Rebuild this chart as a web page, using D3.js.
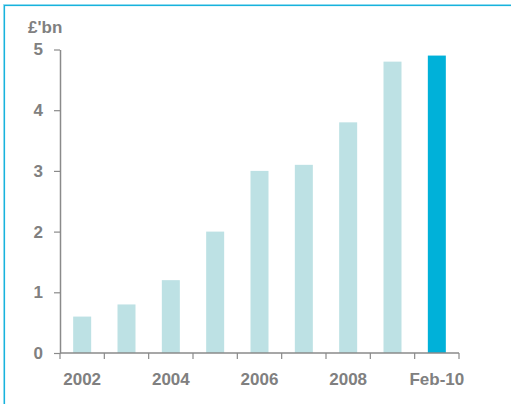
<!DOCTYPE html>
<html>
<head>
<meta charset="utf-8">
<script src="https://cdn.jsdelivr.net/npm/d3@7"></script>
<style>
  html, body { margin: 0; padding: 0; background: #ffffff; }
  svg { display: block; }
  text { font-family: "Liberation Sans", Arial, sans-serif; font-weight: bold; }
</style>
</head>
<body>
<svg id="chart" width="511" height="404"></svg>
<script>
// Annual value in £ billions
const categories = ["2002", "2003", "2004", "2005", "2006", "2007", "2008", "2009", "Feb-10"];
const values = [0.6, 0.8, 1.2, 2.0, 3.0, 3.1, 3.8, 4.8, 4.9];
const xTickLabels = ["2002", "2004", "2006", "2008", "Feb-10"];
const yTicks = [0, 1, 2, 3, 4, 5];
const unitLabel = "£'bn";

const svg = d3.select("#chart");
const textColor = "#808080";
const axisColor = "#8a8a8a";
const lightBar = "#bde1e4";
const highlightBar = "#00b1d9";

// frame: thin double line along top and left edges
svg.append("rect")
  .attr("x", 3.5).attr("y", 4.5)
  .attr("width", 520).attr("height", 420)
  .attr("fill", "none").attr("stroke", "#9fe0f0").attr("stroke-width", 1);
svg.append("rect")
  .attr("x", 4.5).attr("y", 5.5)
  .attr("width", 520).attr("height", 420)
  .attr("fill", "none").attr("stroke", "#18b2dd").attr("stroke-width", 1.2);

const plotLeft = 60, plotRight = 459, plotTop = 49.5, plotBottom = 353;

const x = d3.scaleBand()
  .domain(categories)
  .range([plotLeft, plotRight])
  .paddingInner(0.594)
  .paddingOuter(0.297);

const y = d3.scaleLinear()
  .domain([0, 5])
  .range([plotBottom, plotTop]);

// bars
svg.append("g")
  .selectAll("rect")
  .data(categories)
  .join("rect")
  .attr("x", d => x(d))
  .attr("width", x.bandwidth())
  .attr("y", (d, i) => y(values[i]))
  .attr("height", (d, i) => y(0) - y(values[i]))
  .attr("fill", (d, i) => i === categories.length - 1 ? highlightBar : lightBar);

// y axis
const yAxis = svg.append("g")
  .attr("transform", `translate(${plotLeft},0)`)
  .call(d3.axisLeft(y).tickValues(yTicks).tickSize(6).tickSizeOuter(0).tickPadding(11).tickFormat(d3.format("d")));
yAxis.select(".domain").attr("stroke", axisColor).attr("stroke-width", 1.5);
yAxis.selectAll(".tick line").attr("stroke", axisColor).attr("stroke-width", 1.2);
yAxis.selectAll(".tick text")
  .attr("fill", textColor)
  .attr("font-size", 17)
  .attr("font-family", "'Liberation Sans', Arial, sans-serif")
  .attr("font-weight", "bold");

// x axis baseline with ticks at category boundaries
const step = x.step();
const boundaries = d3.range(categories.length + 1).map(i => plotLeft + i * step);
const xAxisG = svg.append("g");
xAxisG.append("line")
  .attr("x1", plotLeft).attr("x2", plotRight)
  .attr("y1", plotBottom).attr("y2", plotBottom)
  .attr("stroke", axisColor).attr("stroke-width", 1.5);
xAxisG.selectAll("line.tick")
  .data(boundaries)
  .join("line")
  .attr("class", "tick")
  .attr("x1", d => d).attr("x2", d => d)
  .attr("y1", plotBottom).attr("y2", plotBottom + 6)
  .attr("stroke", axisColor).attr("stroke-width", 1.2);

// x labels on every other category
const xLabelAxis = svg.append("g")
  .attr("transform", `translate(0,${plotBottom})`)
  .call(d3.axisBottom(x).tickValues(xTickLabels).tickSize(0).tickPadding(20));
xLabelAxis.select(".domain").remove();
xLabelAxis.selectAll(".tick text")
  .attr("fill", textColor)
  .attr("font-size", 17)
  .attr("font-family", "'Liberation Sans', Arial, sans-serif")
  .attr("font-weight", "bold");

// unit label
svg.append("text")
  .attr("x", 28).attr("y", 33)
  .attr("fill", textColor)
  .attr("font-size", 17)
  .text(unitLabel);
</script>
</body>
</html>
